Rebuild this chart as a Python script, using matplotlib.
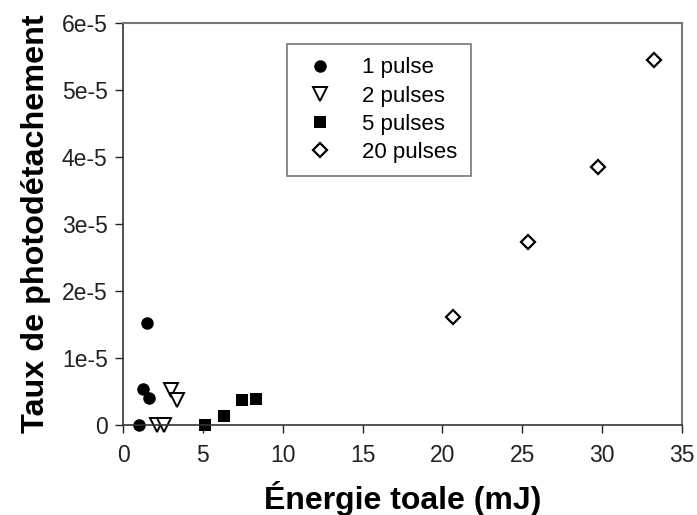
import matplotlib
matplotlib.use("Agg")
import matplotlib.pyplot as plt

plt.rcParams['font.family'] = ['Liberation Sans', 'DejaVu Sans']

# data (x in mJ, y in rate)
x_1pulse = [1.02, 1.23, 1.65, 1.48]
y_1pulse = [0.0, 0.54e-5, 0.40e-5, 1.53e-5]

x_2pulses = [2.1, 2.57, 2.98, 3.4]
y_2pulses = [0.0, 0.0, 0.52e-5, 0.37e-5]

x_5pulses = [5.13, 6.35, 7.43, 8.3]
y_5pulses = [0.0, 0.14e-5, 0.37e-5, 0.39e-5]

x_20pulses = [20.66, 25.36, 29.74, 33.25]
y_20pulses = [1.62e-5, 2.74e-5, 3.86e-5, 5.45e-5]

labels = ['1 pulse', '2 pulses', '5 pulses', '20 pulses']
x_ticks = [0, 5, 10, 15, 20, 25, 30, 35]
y_ticks = [0, 1e-5, 2e-5, 3e-5, 4e-5, 5e-5, 6e-5]
y_tick_labels = ['0', '1e-5', '2e-5', '3e-5', '4e-5', '5e-5', '6e-5']

fig = plt.figure(figsize=(6.97, 5.15), dpi=100)
ax = fig.add_axes([0.1765, 0.1748, 0.802, 0.780])

ax.plot(x_1pulse, y_1pulse, 'o', color='black', ms=9, mew=0, label=labels[0], clip_on=False)
ax.plot(x_2pulses, y_2pulses, 'v', mfc='white', mec='black', ms=10, mew=1.4, label=labels[1], clip_on=False)
ax.plot(x_5pulses, y_5pulses, 's', color='black', ms=8.5, mew=0, label=labels[2], clip_on=False)
ax.plot(x_20pulses, y_20pulses, 'D', mfc='white', mec='black', ms=7.5, mew=1.6, label=labels[3], clip_on=False)

ax.set_xlim(0, 35)
ax.set_ylim(0, 6e-5)
ax.set_xticks(x_ticks)
ax.set_yticks(y_ticks)
ax.set_yticklabels(y_tick_labels)
ax.tick_params(direction='out', length=6, width=1, labelsize=16.5, colors='#222222', pad=8)
ax.tick_params(axis='y', pad=5)

for side in ['top', 'right']:
    ax.spines[side].set_color('#777777')
    ax.spines[side].set_linewidth(1.5)
for side in ['bottom', 'left']:
    ax.spines[side].set_color('#333333')
    ax.spines[side].set_linewidth(1.2)

ax.set_xlabel('Énergie toale (mJ)', fontsize=23, fontweight='bold', labelpad=10)
ax.set_ylabel('Taux de photodétachement', fontsize=23.3, fontweight='bold', labelpad=8)

leg = ax.legend(loc='upper left', bbox_to_anchor=(0.293, 0.948), fontsize=16,
                frameon=True, fancybox=False, edgecolor='#555555', borderpad=0.6,
                handletextpad=1.0, labelspacing=0.32, borderaxespad=0, handlelength=1.8)
leg.get_frame().set_linewidth(1.2)

fig.savefig('out.png', dpi=100)
